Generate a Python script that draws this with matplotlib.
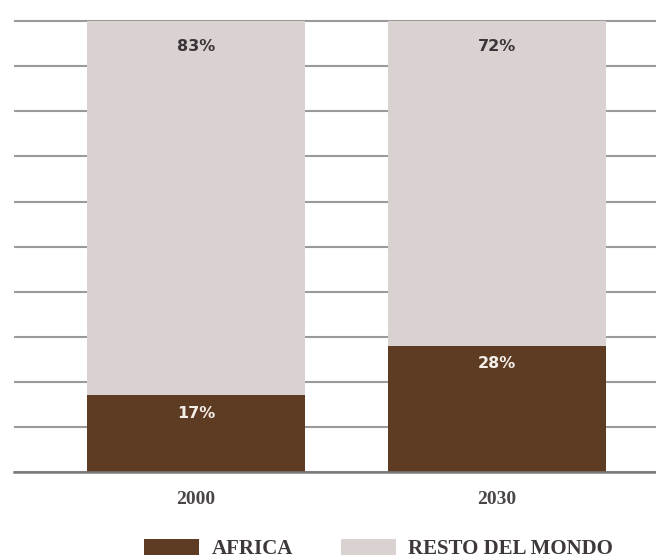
import matplotlib

matplotlib.use("Agg")
import matplotlib.pyplot as plt
from matplotlib.patches import Patch

YEARS = ["2000", "2030"]
AFRICA = [17, 28]
RESTO = [83, 72]
SERIES_LABELS = ["AFRICA", "RESTO DEL MONDO"]

BROWN = "#5E3B23"
LIGHT = "#DAD2D1"
GRID = "#9A9A9A"
TEXT_DARK = "#3A3538"


def main():
    fig = plt.figure(figsize=(6.56, 5.59), dpi=100)
    fig.patch.set_facecolor("#FFFFFF")
    ax = fig.add_axes([14 / 656, 1 - 472 / 559, 1 - 14 / 656, (472 - 19) / 559])

    x = list(range(len(YEARS)))
    width = 0.724
    ax.bar(x, AFRICA, width=width, color=BROWN, zorder=2)
    ax.bar(x, RESTO, width=width, bottom=AFRICA, color=LIGHT, zorder=2)

    for xi, a, r in zip(x, AFRICA, RESTO):
        ax.annotate(f"{a}%", (xi, a), xytext=(0, -13), textcoords="offset points",
                    ha="center", va="center", color="#F4EEE8", fontsize=11.5,
                    fontweight="bold", family="DejaVu Sans", zorder=3)
        ax.annotate(f"{r}%", (xi, a + r), xytext=(0, -18), textcoords="offset points",
                    ha="center", va="center", color=TEXT_DARK, fontsize=11.5,
                    fontweight="bold", family="DejaVu Sans", zorder=3)

    ax.set_xlim(-0.605, 1.528)
    ax.set_ylim(0, 100.5)
    ax.set_yticks(range(0, 101, 10))
    ax.yaxis.grid(True, color=GRID, linewidth=1.5, zorder=0)
    ax.set_axisbelow(True)
    ax.tick_params(axis="y", left=False, labelleft=False)
    ax.tick_params(axis="x", length=0, pad=14)
    ax.set_xticks(x)
    ax.set_xticklabels(YEARS, family="Liberation Serif", fontsize=14,
                       fontweight="bold", color="#4A4548")
    for name, spine in ax.spines.items():
        spine.set_visible(name == "bottom")
    ax.spines["bottom"].set_color("#7A7A7A")
    ax.spines["bottom"].set_linewidth(1.8)
    ax.set_facecolor("#FFFFFF")

    handles = [Patch(facecolor=BROWN), Patch(facecolor=LIGHT)]
    fig.legend(handles, SERIES_LABELS, loc="center", bbox_to_anchor=(0.577, 0.018),
               ncol=2, frameon=False, handlelength=2.65, handleheight=0.8,
               columnspacing=2.3, handletextpad=0.6, borderpad=0.2,
               prop={"family": "Liberation Serif", "size": 15, "weight": "bold"})
    for t in fig.legends[0].get_texts():
        t.set_color("#3E383B")

    fig.savefig("out.png", dpi=100)


if __name__ == "__main__":
    main()
